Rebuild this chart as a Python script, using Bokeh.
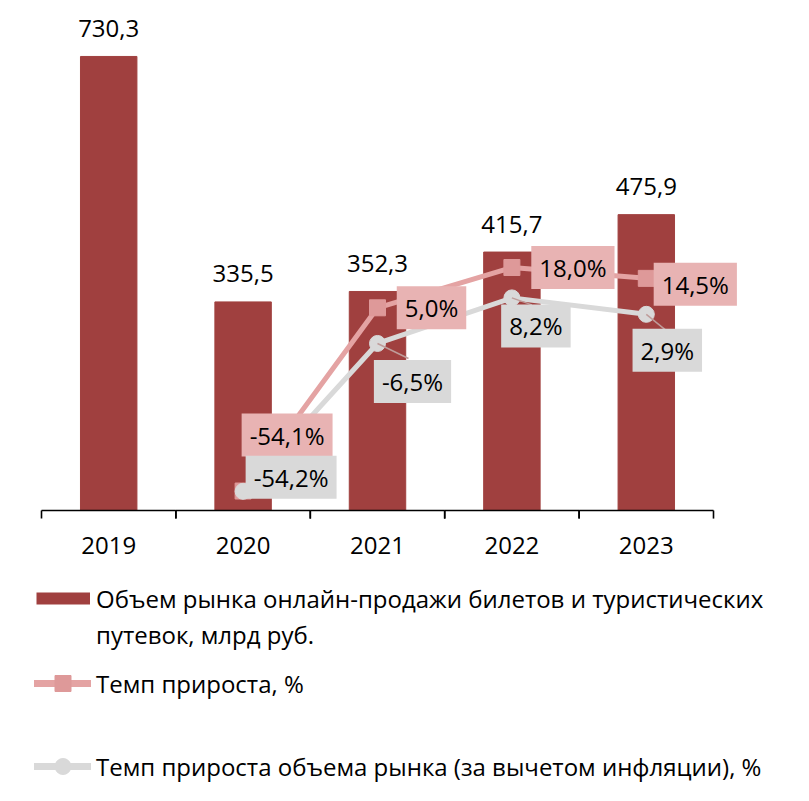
from bokeh.plotting import figure
from bokeh.models import Range1d, ColumnDataSource, Legend, LegendItem
from bokeh.transform import dodge
from bokeh.core.properties import value
from bokeh.embed import file_html
from bokeh.resources import INLINE

# ---------------- data ----------------
years = ["2019", "2020", "2021", "2022", "2023"]
market = [730.3, 335.5, 352.3, 415.7, 475.9]
growth_years = ["2020", "2021", "2022", "2023"]
growth = [-54.1, 5.0, 18.0, 14.5]
real_growth = [-54.2, -6.5, 8.2, 2.9]

legend_labels = [
    "Объем рынка онлайн-продажи билетов и туристических",
    "путевок, млрд руб.",
    "Темп прироста, %",
    "Темп прироста объема рынка (за вычетом инфляции), %",
]

# ---------------- style ----------------
FONT = "Open Sans"
BAR = "#A0403F"
PINK_LINE = "#E4A3A3"
PINK_MARK = "#DE9999"
PINK_BOX = "#E8B3B3"
GRAY = "#D9D9D9"
LEADER = "#BF9C9A"
TXT = "#000000"

W, H = 800, 795
B_TOP = 13
FRAME_H = H - B_TOP
CAT_PX = 134.4            # pixel width of one category slot
X_RANGE = (-0.80506, 5.14732)
Y1 = (-458.4, 799.4)
Y2 = (-152.32, 99.94)
TICK_LEN = 13  # in primary-axis units

# label offsets (px) relative to points
pink_dx = [44, 54, 61, 49]
pink_dy = [-56, 0, 0, 6]
gray_dx = [48, 35, 24, 21]
gray_dy = [-14, 38, 28, 36]
# leader lines for gray labels (index, dx px, dy px)
leaders = [(1, 31, 15), (2, 20, 7), (3, 21, 17)]

NAN = float("nan")


def fmt(v, suffix=""):
    return f"{v:.1f}".replace(".", ",") + suffix


p = figure(
    x_range=Range1d(*X_RANGE),
    y_range=Range1d(*Y1),
    width=W, height=H,
    output_backend="svg", toolbar_location=None,
    x_axis_location=None, y_axis_location=None,
    min_border_left=0, min_border_right=0,
    min_border_top=B_TOP, min_border_bottom=0,
)
p.extra_y_ranges = {"y2": Range1d(*Y2)}
p.xgrid.visible = False
p.ygrid.visible = False
p.outline_line_color = None
p.background_fill_color = "white"
p.border_fill_color = "white"

pos = list(range(len(years)))
gpos = [years.index(y) for y in growth_years]

bar_src = ColumnDataSource(dict(x=pos, year=years, value=market, label=[fmt(v) for v in market]))
g_src = ColumnDataSource(dict(x=gpos, value=growth,
                              label=[fmt(v, "%") for v in growth],
                              dx=pink_dx, dy=pink_dy))
r_src = ColumnDataSource(dict(x=gpos, value=real_growth,
                              label=[fmt(v, "%") for v in real_growth],
                              dx=gray_dx, dy=gray_dy))

# bars
p.vbar(x="x", top="value", width=0.42, source=bar_src, color=BAR)

# baseline and boundary ticks (Excel-style category axis)
p.segment(x0=dodge("x", -0.5), x1=dodge("x", 0.5),
          y0=0, y1=0, source=bar_src, line_color="black", line_width=1.6)
p.segment(x0=dodge("x", -0.5), x1=dodge("x", -0.5),
          y0=0, y1=-TICK_LEN, source=bar_src, line_color="black", line_width=1.6)
p.segment(x0=dodge("x", 0.5), x1=dodge("x", 0.5),
          y0=0, y1=-TICK_LEN, source=bar_src, line_color="black", line_width=1.6)

# category labels
p.text(x="x", y=0, text="year", source=bar_src,
       text_align="center", text_baseline="middle", y_offset=35,
       text_font=value(FONT), text_font_size="24px", text_color=TXT)

# bar labels
p.text(x="x", y="value", text="label", source=bar_src,
       text_align="center", text_baseline="alphabetic", y_offset=-28,
       text_font=value(FONT), text_font_size="24px", text_color=TXT)

# lines
pink_line = p.line(x="x", y="value", source=g_src, y_range_name="y2",
                   line_width=5, line_color=PINK_LINE)
pink_mark = p.scatter(x="x", y="value", source=g_src, y_range_name="y2",
                      marker="square", size=16, fill_color=PINK_MARK, line_color=PINK_MARK)
gray_line = p.line(x="x", y="value", source=r_src, y_range_name="y2",
                   line_width=5, line_color=GRAY)
gray_mark = p.scatter(x="x", y="value", source=r_src, y_range_name="y2",
                      marker="circle", size=16, fill_color=GRAY, line_color=GRAY)

# leader lines
y2_per_px = (Y2[1] - Y2[0]) / FRAME_H
for i, dxp, dyp in leaders:
    src = ColumnDataSource(dict(x=[gpos[i]], value=[real_growth[i]],
                                y1=[real_growth[i] - dyp * y2_per_px]))
    p.segment(x0="x", y0="value", x1=dodge("x", dxp / CAT_PX),
              y1="y1", source=src, y_range_name="y2", line_color=LEADER, line_width=1.5)

# percent labels with boxes
p.text(x="x", y="value", text="label", source=g_src, y_range_name="y2",
       x_offset="dx", y_offset="dy", text_align="center", text_baseline="middle",
       text_font=value(FONT), text_font_size="24px", text_color=TXT,
       background_fill_color=PINK_BOX, padding=(8, 5))
p.text(x="x", y="value", text="label", source=r_src, y_range_name="y2",
       x_offset="dx", y_offset="dy", text_align="center", text_baseline="middle",
       text_font=value(FONT), text_font_size="24px", text_color=TXT,
       background_fill_color=GRAY, padding=(8, 5))

# legend glyph stand-ins (not drawn in the plot area: NaN values)
leg_src = ColumnDataSource(dict(x=[0], value=[NAN]))
bar_leg = p.line(x="x", y="value", source=leg_src, line_width=12, line_color=BAR, line_cap="butt")
blank_leg = p.line(x="x", y="value", source=leg_src, line_alpha=0)
pink_leg_l = p.line(x="x", y="value", source=leg_src, line_width=7,
                    line_color=PINK_LINE, line_cap="round")
pink_leg_m = p.scatter(x="x", y="value", source=leg_src, marker="square", size=16,
                       fill_color=PINK_MARK, line_color=PINK_MARK)
gray_leg_l = p.line(x="x", y="value", source=leg_src, line_width=7,
                    line_color=GRAY, line_cap="round")
gray_leg_m = p.scatter(x="x", y="value", source=leg_src, marker="circle", size=16,
                       fill_color=GRAY, line_color=GRAY)


def mk_legend(items, loc, glyph_w, glyph_h, standoff):
    lg = Legend(items=items, location=loc, orientation="vertical",
                glyph_width=glyph_w, glyph_height=glyph_h, label_height=glyph_h,
                label_standoff=standoff, spacing=0, padding=0, margin=0,
                border_line_color=None, background_fill_alpha=0,
                label_text_font=FONT, label_text_font_size="24px", label_text_color=TXT)
    p.add_layout(lg, "center")
    return lg


mk_legend([LegendItem(label=legend_labels[0], renderers=[bar_leg]),
           LegendItem(label=legend_labels[1], renderers=[blank_leg])],
          (36, 143), 54, 36, 6)
mk_legend([LegendItem(label=legend_labels[2], renderers=[pink_leg_l, pink_leg_m])],
          (34, 92), 57, 40, 5)
mk_legend([LegendItem(label=legend_labels[3], renderers=[gray_leg_l, gray_leg_m])],
          (34, 9), 57, 40, 5)

open("out.html", "w").write(file_html(p, INLINE))
